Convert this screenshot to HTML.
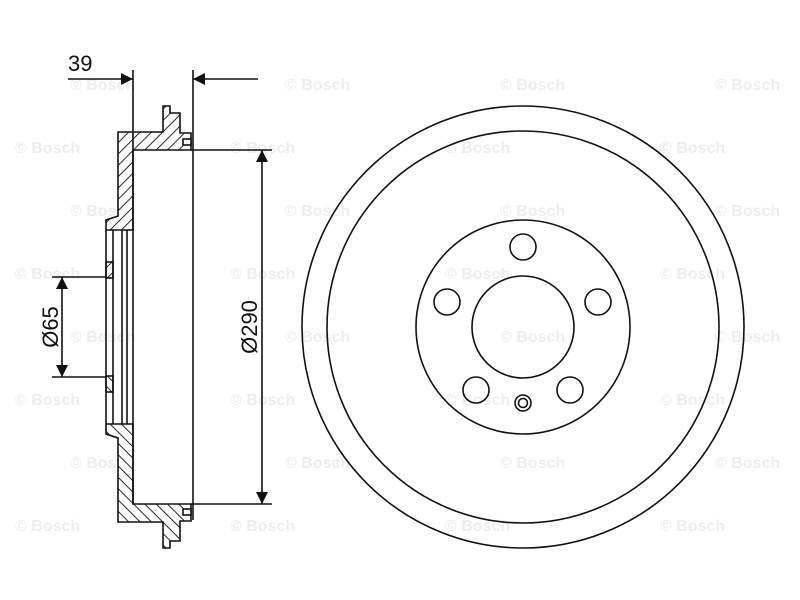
<!DOCTYPE html>
<html><head><meta charset="utf-8"><style>
html,body{margin:0;padding:0;background:#fff;}
svg{display:block;}
text{font-family:"Liberation Sans",Arial,sans-serif;fill:#111;}
.wm text{fill:#ededed;font-size:16px;font-weight:bold;}
</style></head><body>
<svg width="800" height="600" viewBox="0 0 800 600" xmlns="http://www.w3.org/2000/svg">
<defs>
<pattern id="h" patternUnits="userSpaceOnUse" width="8" height="8" patternTransform="rotate(45)">
<rect width="8" height="8" fill="#fff"/><line x1="0" y1="0" x2="0" y2="8" stroke="#111" stroke-width="1.8"/>
</pattern>
<marker id="a" viewBox="0 0 10 10" refX="10" refY="5" markerWidth="20" markerHeight="12" markerUnits="userSpaceOnUse" orient="auto">
<path d="M0,0 L10,5 L0,10 Z" fill="#111"/></marker>
</defs>
<g class="wm">
<text x="15" y="153">© Bosch</text><text x="230" y="153">© Bosch</text><text x="445" y="153">© Bosch</text><text x="660" y="153">© Bosch</text>
<text x="70" y="90">© Bosch</text><text x="285" y="90">© Bosch</text><text x="500" y="90">© Bosch</text><text x="715" y="90">© Bosch</text>
<text x="70" y="216">© Bosch</text><text x="285" y="216">© Bosch</text><text x="500" y="216">© Bosch</text><text x="715" y="216">© Bosch</text>
<text x="15" y="279">© Bosch</text><text x="230" y="279">© Bosch</text><text x="445" y="279">© Bosch</text><text x="660" y="279">© Bosch</text>
<text x="70" y="342">© Bosch</text><text x="285" y="342">© Bosch</text><text x="500" y="342">© Bosch</text><text x="715" y="342">© Bosch</text>
<text x="15" y="405">© Bosch</text><text x="230" y="405">© Bosch</text><text x="445" y="405">© Bosch</text><text x="660" y="405">© Bosch</text>
<text x="70" y="468">© Bosch</text><text x="285" y="468">© Bosch</text><text x="500" y="468">© Bosch</text><text x="715" y="468">© Bosch</text>
<text x="15" y="531">© Bosch</text><text x="230" y="531">© Bosch</text><text x="445" y="531">© Bosch</text><text x="660" y="531">© Bosch</text>
</g>
<g stroke="#111" stroke-width="1.6" fill="none">
<g id="sec">
<polygon points="118,132 163,132 163,106 170,106 170,113 180,113 180,133 191,133 191,150 133,150 133,230 106,230 106,220 118,216" fill="url(#h)"/>
<rect x="106" y="262" width="7" height="16" fill="url(#h)"/>
<rect x="183" y="139" width="8" height="6" fill="#fff"/>
</g>
<use href="#sec" transform="translate(0,654) scale(1,-1)"/>
<line x1="106" y1="230" x2="106" y2="424"/>
<line x1="113" y1="230" x2="113" y2="424"/>
<line x1="122" y1="230" x2="122" y2="424"/>
<line x1="127" y1="230" x2="127" y2="424"/>
<line x1="133" y1="150" x2="133" y2="504"/>
<line x1="133" y1="70" x2="133" y2="150"/>
<line x1="193" y1="70" x2="193" y2="520"/>
<line x1="68" y1="79" x2="133" y2="79" marker-end="url(#a)"/>
<line x1="258" y1="79" x2="193" y2="79" marker-end="url(#a)"/>
<line x1="191" y1="150" x2="272" y2="150"/>
<line x1="191" y1="504" x2="272" y2="504"/>
<line x1="262" y1="327" x2="262" y2="150" marker-end="url(#a)"/>
<line x1="262" y1="327" x2="262" y2="504" marker-end="url(#a)"/>
<line x1="52" y1="277" x2="106" y2="277"/>
<line x1="52" y1="377" x2="106" y2="377"/>
<line x1="62" y1="327" x2="62" y2="277" marker-end="url(#a)"/>
<line x1="62" y1="327" x2="62" y2="377" marker-end="url(#a)"/>
<circle cx="523" cy="327" r="221"/>
<circle cx="523" cy="327" r="196"/>
<circle cx="523" cy="327" r="107"/>
<circle cx="523" cy="327" r="51"/>
<circle cx="523" cy="247" r="13"/>
<circle cx="447" cy="302" r="13"/>
<circle cx="598" cy="302" r="13"/>
<circle cx="476" cy="390" r="13"/>
<circle cx="570" cy="390" r="13"/>
<circle cx="523" cy="403" r="8"/>
<circle cx="523" cy="403" r="4.5"/>
</g>
<text x="68" y="71" font-size="22">39</text>
<text transform="translate(58,327) rotate(-90)" font-size="22" text-anchor="middle">Ø65</text>
<text transform="translate(257,327) rotate(-90)" font-size="22" text-anchor="middle">Ø290</text>
</svg>
</body></html>
